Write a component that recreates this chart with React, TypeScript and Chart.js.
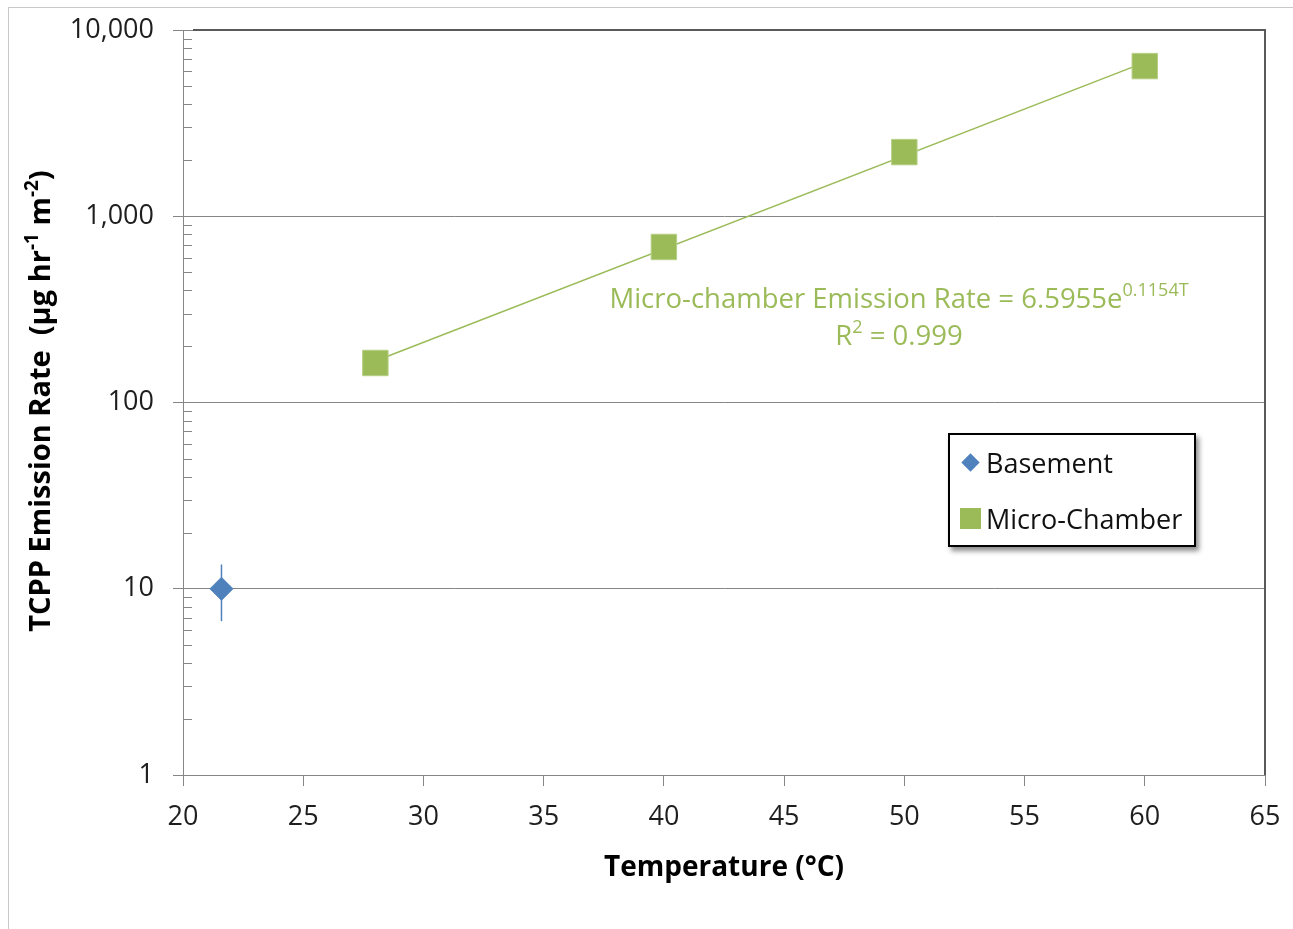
import React, { useEffect, useRef } from "react";
import { Chart, registerables } from "chart.js";

Chart.register(...registerables);

// Basement measurement with its uncertainty range
const basementTemp = [21.6];
const basementRate = [10];
const basementLow = [6.7];
const basementHigh = [13.5];

// Micro-chamber measurements
const chamberTemp = [28, 40, 50, 60];
const chamberRate = [163, 684, 2210, 6400];

// Exponential fit through the micro-chamber points
const fitA = 6.5955;
const fitB = 0.1154;
const fitRange = [28, 60];
const fitR2 = "0.999";

const xTickValues = [20, 25, 30, 35, 40, 45, 50, 55, 60, 65];
const yDecades = [1, 10, 100, 1000, 10000];
const yMinorMultipliers = [2, 3, 4, 5, 6, 7, 8, 9];

const BLUE = "#4F81BD";
const GREEN = "#9BBB59";
const AXIS_GREY = "#868686";
const FRAME = "#595959";
const TEXT = "#1e1e1e";
const FONT = "'Open Sans', sans-serif";

const seriesNames = ["Basement", "Micro-Chamber"];
const legendItems = [
  { label: seriesNames[0], color: BLUE, shape: "diamond" },
  { label: seriesNames[1], color: GREEN, shape: "square" },
];

type Seg = { text: string; sup?: boolean };

// Centred text with superscript runs
function drawRich(
  ctx: CanvasRenderingContext2D,
  segs: Seg[],
  cx: number,
  cy: number,
  size: number,
  weight: string,
  color: string
) {
  const base = `${weight} ${size}px ${FONT}`;
  const small = `${weight} ${Math.round(size * 0.64)}px ${FONT}`;
  let total = 0;
  const widths = segs.map((s) => {
    ctx.font = s.sup ? small : base;
    const w = ctx.measureText(s.text).width;
    total += w;
    return w;
  });
  let x = cx - total / 2;
  const baseY = cy + size * 0.36;
  ctx.fillStyle = color;
  ctx.textBaseline = "alphabetic";
  ctx.textAlign = "left";
  segs.forEach((s, i) => {
    ctx.font = s.sup ? small : base;
    ctx.fillText(s.text, x, s.sup ? baseY - size * 0.42 : baseY);
    x += widths[i];
  });
}

const decorations = {
  id: "decorations",
  beforeDatasetsDraw(chart: any) {
    const { ctx, scales } = chart;
    const x = scales.x;
    const y = scales.y;
    ctx.save();
    ctx.strokeStyle = BLUE;
    ctx.lineWidth = 1.5;
    basementTemp.forEach((t, i) => {
      const px = x.getPixelForValue(t);
      ctx.beginPath();
      ctx.moveTo(px, y.getPixelForValue(basementLow[i]));
      ctx.lineTo(px, y.getPixelForValue(basementHigh[i]));
      ctx.stroke();
    });
    ctx.restore();
  },
  afterDraw(chart: any) {
    const { ctx, chartArea: ca, scales } = chart;
    const y = scales.y;
    ctx.save();

    // minor ticks of the log axis, pointing into the plot
    ctx.strokeStyle = AXIS_GREY;
    ctx.lineWidth = 1;
    yDecades.slice(0, -1).forEach((d) =>
      yMinorMultipliers.forEach((m) => {
        const py = Math.round(y.getPixelForValue(d * m)) + 0.5;
        ctx.beginPath();
        ctx.moveTo(ca.left, py);
        ctx.lineTo(ca.left + 9, py);
        ctx.stroke();
      })
    );

    // plot frame: top and right edges
    ctx.strokeStyle = FRAME;
    ctx.lineWidth = 2;
    ctx.beginPath();
    ctx.moveTo(ca.left + 10, ca.top);
    ctx.lineTo(ca.right, ca.top);
    ctx.lineTo(ca.right, ca.bottom);
    ctx.stroke();

    // fit equation and R²
    drawRich(
      ctx,
      [
        { text: `Micro-chamber Emission Rate = ${fitA}e` },
        { text: `${fitB}T`, sup: true },
      ],
      899,
      298,
      27.5,
      "normal",
      GREEN
    );
    drawRich(
      ctx,
      [{ text: "R" }, { text: "2", sup: true }, { text: ` = ${fitR2}` }],
      899,
      335,
      27.5,
      "normal",
      GREEN
    );

    // vertical axis title
    ctx.translate(40, 401);
    ctx.rotate(-Math.PI / 2);
    drawRich(
      ctx,
      [
        { text: "TCPP Emission Rate  (μg hr" },
        { text: "-1", sup: true },
        { text: " m" },
        { text: "-2", sup: true },
        { text: ")" },
      ],
      0,
      0,
      29,
      "bold",
      "#000"
    );
    ctx.restore();
  },
};

function LegendMarker({ shape, color }: { shape: string; color: string }) {
  if (shape === "diamond") {
    return (
      <div style={{ width: 22, height: 22, display: "flex", alignItems: "center", justifyContent: "center" }}>
        <div style={{ width: 13, height: 13, background: color, transform: "rotate(45deg)" }} />
      </div>
    );
  }
  return (
    <div style={{ width: 22, height: 22, display: "flex", alignItems: "center", justifyContent: "center" }}>
      <div style={{ width: 21, height: 21, background: color }} />
    </div>
  );
}

export default function App() {
  const canvasRef = useRef<HTMLCanvasElement | null>(null);

  useEffect(() => {
    const canvas = canvasRef.current;
    if (!canvas) return;
    const chart = new Chart(canvas, {
      type: "scatter",
      data: {
        datasets: [
          {
            label: seriesNames[0],
            data: basementTemp.map((t, i) => ({ x: t, y: basementRate[i] })),
            pointStyle: "rectRot",
            pointRadius: 11.5,
            pointHoverRadius: 11.5,
            backgroundColor: BLUE,
            borderColor: BLUE,
            borderWidth: 1,
            order: 0,
          },
          {
            label: seriesNames[1],
            data: chamberTemp.map((t, i) => ({ x: t, y: chamberRate[i] })),
            pointStyle: "rect",
            pointRadius: 18,
            pointHoverRadius: 18,
            backgroundColor: GREEN,
            borderColor: "#B7CF85",
            borderWidth: 1,
            order: 1,
          },
          {
            label: "Exponential fit",
            data: fitRange.map((t) => ({ x: t, y: fitA * Math.exp(fitB * t) })),
            showLine: true,
            borderColor: GREEN,
            borderWidth: 1.5,
            pointRadius: 0,
            pointHoverRadius: 0,
            order: 2,
          },
        ],
      },
      options: {
        responsive: false,
        animation: false,
        events: [],
        layout: { padding: { left: 0, top: 30, right: 28, bottom: 0 } },
        plugins: {
          legend: { display: false },
          tooltip: { enabled: false },
        },
        scales: {
          x: {
            type: "linear",
            min: 20,
            max: 65,
            afterBuildTicks: (axis: any) => {
              axis.ticks = xTickValues.map((v) => ({ value: v }));
            },
            afterFit: (axis: any) => {
              axis.height = 154;
              axis.paddingLeft = 0;
              axis.paddingRight = 0;
            },
            ticks: {
              autoSkip: false,
              maxRotation: 0,
              padding: 15,
              color: TEXT,
              font: { family: FONT, size: 27 },
            },
            grid: {
              drawOnChartArea: false,
              drawTicks: true,
              tickLength: 11,
              color: AXIS_GREY,
            },
            border: { color: AXIS_GREY, width: 1 },
            title: {
              display: true,
              text: "Temperature (°C)",
              color: "#000",
              font: { family: FONT, size: 28, weight: "bold" },
              padding: { top: 0, bottom: 44 },
            },
          },
          y: {
            type: "logarithmic",
            min: 1,
            max: 10000,
            afterBuildTicks: (axis: any) => {
              axis.ticks = yDecades.map((v) => ({ value: v }));
            },
            afterFit: (axis: any) => {
              axis.width = 183;
              axis.paddingTop = 0;
              axis.paddingBottom = 0;
            },
            ticks: {
              autoSkip: false,
              padding: 19,
              color: TEXT,
              font: { family: FONT, size: 27 },
              callback: (v: any) => Number(v).toLocaleString("en-US"),
            },
            grid: {
              drawOnChartArea: true,
              drawTicks: true,
              tickLength: 10,
              color: AXIS_GREY,
              lineWidth: 1,
            },
            border: { color: AXIS_GREY, width: 1 },
          },
        },
      },
      plugins: [decorations],
    });
    return () => chart.destroy();
  }, []);

  return (
    <div
      style={{
        position: "absolute",
        left: 0,
        top: 0,
        width: 1293,
        height: 929,
        overflow: "hidden",
        background: "#fff",
        fontFamily: FONT,
      }}
    >
      <div
        style={{
          position: "absolute",
          left: 8,
          top: 7,
          width: 1400,
          height: 1000,
          border: "1px solid #c8c8c8",
          boxSizing: "border-box",
        }}
      />
      <canvas
        ref={canvasRef}
        width={1293}
        height={929}
        style={{ position: "absolute", left: 0, top: 0 }}
      />
      <div
        style={{
          position: "absolute",
          left: 948,
          top: 433,
          width: 248,
          height: 114,
          boxSizing: "border-box",
          border: "2px solid #000",
          background: "#fff",
          boxShadow: "3px 4px 5px rgba(0,0,0,0.45)",
          paddingTop: 4,
        }}
      >
        {legendItems.map((item) => (
          <div
            key={item.label}
            style={{
              display: "flex",
              alignItems: "center",
              height: 46,
              marginBottom: 10,
              paddingLeft: 9,
              fontSize: 27,
              color: "#111",
              whiteSpace: "nowrap",
            }}
          >
            <LegendMarker shape={item.shape} color={item.color} />
            <span style={{ marginLeft: 5 }}>{item.label}</span>
          </div>
        ))}
      </div>
    </div>
  );
}
